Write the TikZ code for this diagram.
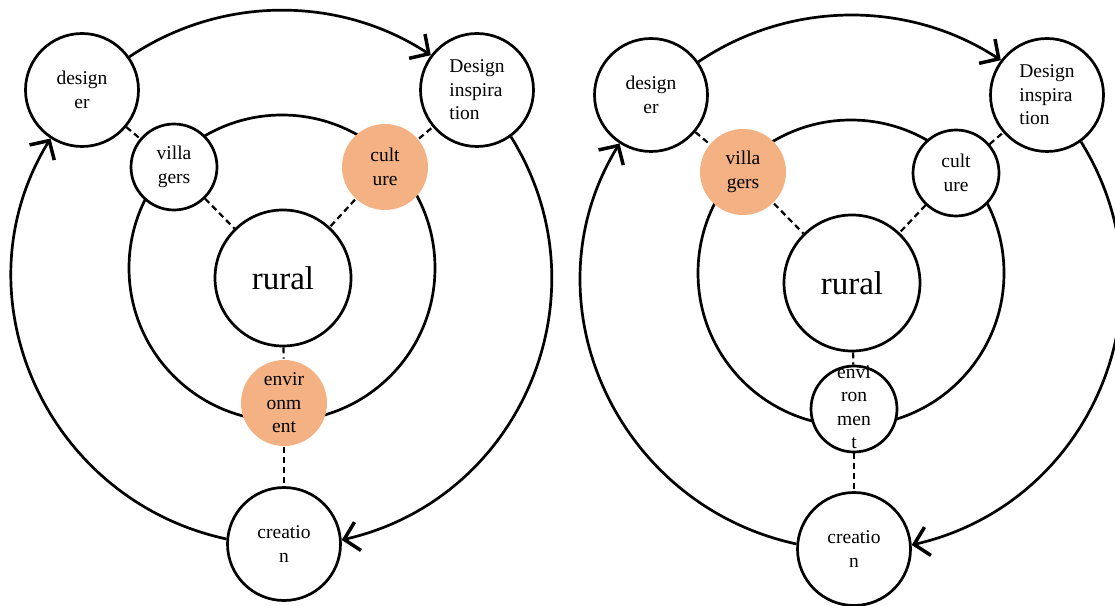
\documentclass[tikz,border=0pt]{standalone}
\usepackage{fontspec}
\setmainfont{Liberation Serif}
\usetikzlibrary{arrows.meta}

\definecolor{peach}{RGB}{244,177,131}

\tikzset{
  label font/.style={font=\fontsize{19.5}{23.5}\selectfont},
  bignode/.style={circle, draw, line width=2.7pt, fill=white, minimum size=113pt,
    inner sep=0pt, align=center, label font},
  smallnode/.style={circle, draw, line width=2.7pt, fill=white, minimum size=86pt,
    inner sep=0pt, align=center, label font},
  corenode/.style={circle, draw, line width=2.7pt, fill=white, minimum size=136pt,
    inner sep=0pt, font=\fontsize{33}{38}\selectfont},
  hilite/.style={draw=none, fill=peach},
  ringline/.style={line width=2.7pt},
  link/.style={line width=2.2pt, dash pattern=on 6pt off 4pt},
  flow/.style={line width=2.7pt, -{Straight Barb[length=14pt,width=29pt,line width=3.5pt]}},
}

\begin{document}
\begin{tikzpicture}[x=1pt, y=1pt]
  \fill[white] (0,0) rectangle (1115,605);
  \useasboundingbox (0,0) rectangle (1115,605);

  % ---------- left cycle: culture and environment highlighted ----------
  \begin{scope}[name prefix=L-]
    \draw[ringline] (282,337) circle[radius=153];
    \node[corenode] (rural) at (283,327) {rural};
    \node[bignode] (designer) at (82,515) {design\\er};
    \node[bignode, align=left] (inspiration) at (477,515) {Design\\inspira\\tion};
    \node[bignode] (creation) at (284,61) {creatio\\n};
    \node[smallnode] (villagers) at (174,438) {villa\\gers};
    \node[smallnode, hilite] (culture) at (385,438) {cult\\ure};
    \node[smallnode, hilite] (environment) at (284,202) {envir\\onm\\ent};

    \draw[link] (designer) -- (villagers);
    \draw[link] (villagers) -- (rural);
    \draw[link] (culture) -- (rural);
    \draw[link] (culture) -- (inspiration);
    \draw[link] (rural) -- (environment);
    \draw[link] (environment) -- (creation);

    \draw[flow] (designer.35) to[out=34, in=146.8, looseness=0.93] (inspiration.143);
    \draw[flow] (inspiration.-54) to[out=-58.1, in=12.9, looseness=1.08] (creation.4);
    \draw[flow] (creation.175) to[out=167.8, in=238.5, looseness=1.08] (designer.237);
  \end{scope}

  % ---------- right cycle: villagers highlighted ----------
  \begin{scope}[shift={(569,-5)}, name prefix=R-]
    \draw[ringline] (282,337) circle[radius=153];
    \node[corenode] (rural) at (283,327) {rural};
    \node[bignode] (designer) at (82,515) {design\\er};
    \node[bignode, align=left] (inspiration) at (478,515) {Design\\inspira\\tion};
    \node[bignode] (creation) at (285,61) {creatio\\n};
    \node[smallnode, hilite] (villagers) at (174,438) {villa\\gers};
    \node[smallnode] (culture) at (387,437) {cult\\ure};
    \node[smallnode] (environment) at (285,201)
      {\smash{\raisebox{-5pt}{\begin{tabular}{@{}c@{}}envi\\ron\\men\\t\end{tabular}}}};

    \draw[link] (designer) -- (villagers);
    \draw[link] (villagers) -- (rural);
    \draw[link] (culture) -- (rural);
    \draw[link] (culture) -- (inspiration);
    \draw[link] (rural) -- (environment);
    \draw[link] (environment) -- (creation);

    \draw[flow] (designer.35) to[out=34, in=146.8, looseness=0.93] (inspiration.143);
    \draw[flow] (inspiration.-54) to[out=-58.1, in=12.9, looseness=1.08] (creation.4);
    \draw[flow] (creation.175) to[out=167.8, in=238.5, looseness=1.08] (designer.237);
  \end{scope}
\end{tikzpicture}
\end{document}
